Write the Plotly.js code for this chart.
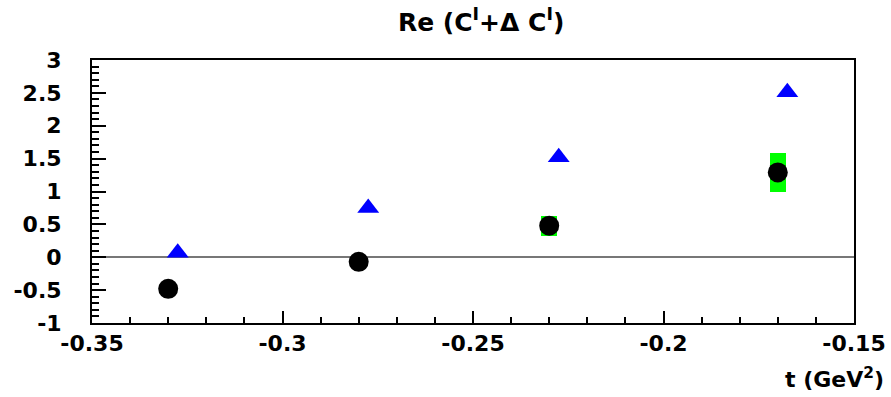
<!DOCTYPE html>
<html>
<head>
<meta charset="utf-8">
<script src="https://cdn.plot.ly/plotly-3.0.1.min.js"></script>
<style>html,body{margin:0;padding:0;background:#fff;}#chart{width:891px;height:397px;}</style>
</head>
<body>
<div id="chart"></div>
<script>
// Black circles
const tCircle = [-0.33, -0.28, -0.23, -0.17];
const reCircle = [-0.48, -0.07, 0.48, 1.29];
// Blue triangles
const tTri = [-0.3275, -0.2775, -0.2275, -0.1675];
const reTri = [0.07, 0.75, 1.52, 2.51];
// Green systematic boxes (low / high)
const tBox = [-0.33, -0.28, -0.23, -0.17];
const boxLow = [-0.53, -0.12, 0.33, 1.00];
const boxHigh = [-0.43, -0.02, 0.63, 1.58];
// Tick labels
const xTickVals = [-0.35, -0.3, -0.25, -0.2, -0.15];
const xTickText = ['-0.35', '-0.3', '-0.25', '-0.2', '-0.15'];
const yTickVals = [-1, -0.5, 0, 0.5, 1, 1.5, 2, 2.5, 3];
const yTickText = ['-1', '-0.5', '0', '0.5', '1', '1.5', '2', '2.5', '3'];

const boxHeight = boxHigh.map((h, i) => h - boxLow[i]);
const bold = s => '<b>' + s + '</b>';

const font = {family: 'DejaVu Sans, Liberation Sans, Arial, sans-serif', color: '#000'};

const traces = [
  {
    type: 'bar', x: tBox, y: boxHeight, base: boxLow, width: 0.0042,
    marker: {color: '#00ff00', line: {width: 0}}, hoverinfo: 'skip', showlegend: false
  },
  {
    type: 'scatter', mode: 'markers', x: tTri, y: reTri,
    marker: {symbol: 'triangle-up', size: 19, color: '#0000ff'}, showlegend: false
  },
  {
    type: 'scatter', mode: 'markers', x: tCircle, y: reCircle,
    marker: {symbol: 'circle', size: 20, color: '#000000'}, showlegend: false
  }
];

const layout = {
  width: 891, height: 397,
  margin: {l: 92, r: 37, t: 60, b: 74},
  paper_bgcolor: '#fff', plot_bgcolor: '#fff',
  title: {text: '<b>Re (C<sup>I</sup>+Δ C<sup>I</sup>)</b>', font: Object.assign({size: 25}, font), x: 0.54, xanchor: 'center', y: 0.945, yanchor: 'middle'},
  xaxis: {
    range: [-0.35, -0.15], tickvals: xTickVals, ticktext: xTickText.map(bold),
    ticks: 'inside', ticklen: 12, tickwidth: 2, tickcolor: '#000',
    minor: {dtick: 0.01, ticks: 'inside', ticklen: 6, tickwidth: 2, tickcolor: '#000'},
    showline: true, linecolor: '#000', linewidth: 2, mirror: true,
    showgrid: false, zeroline: false,
    tickfont: Object.assign({size: 22}, font)
  },
  yaxis: {
    range: [-1, 3], tickvals: yTickVals, ticktext: yTickText.map(bold),
    ticks: 'inside', ticklen: 14, tickwidth: 2, tickcolor: '#000',
    minor: {dtick: 0.1, ticks: 'inside', ticklen: 7, tickwidth: 2, tickcolor: '#000'},
    ticklabelposition: 'outside', ticklabelstandoff: 24,
    showline: true, linecolor: '#000', linewidth: 2, mirror: true,
    showgrid: false, zeroline: true, zerolinecolor: '#777', zerolinewidth: 2,
    tickfont: Object.assign({size: 22}, font)
  },
  annotations: [
    {text: '<b>t (GeV<sup>2</sup>)</b>', xref: 'paper', yref: 'paper', x: 1.042, y: -0.15,
     xanchor: 'right', yanchor: 'top', showarrow: false, font: Object.assign({size: 22}, font)}
  ],
  bargap: 0
};

Plotly.newPlot('chart', traces, layout, {displayModeBar: false, staticPlot: true});
</script>
</body>
</html>
